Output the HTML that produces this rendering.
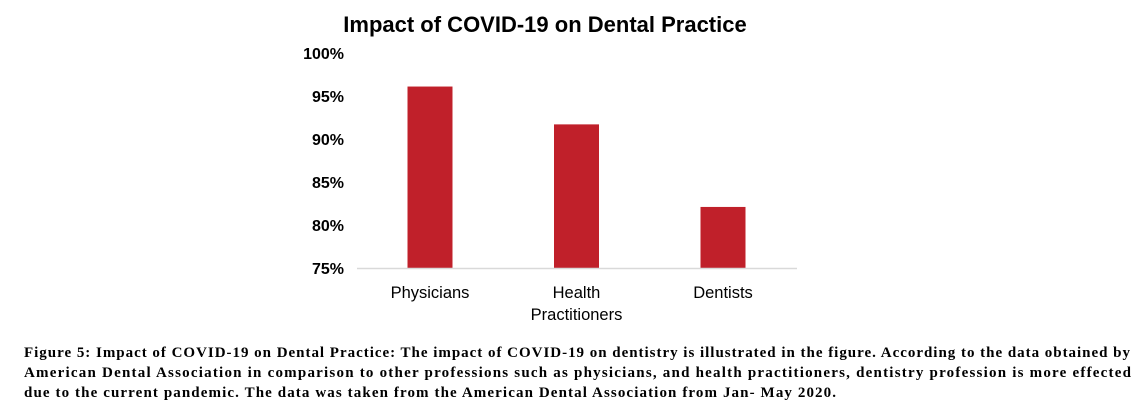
<!DOCTYPE html>
<html><head><meta charset="utf-8">
<style>
body{margin:0;width:1143px;height:416px;background:#fff;overflow:hidden;position:relative}
</style></head><body>
<svg width="1143" height="416" style="position:absolute;left:0;top:0">
<text x="545" y="32" text-anchor="middle" font-family="Liberation Sans,sans-serif" font-weight="bold" font-size="22">Impact of COVID-19 on Dental Practice</text>
<g id="yaxis"></g><g id="bars"></g><g id="xlabels"></g>
<line x1="357" y1="268.5" x2="797" y2="268.5" stroke="#d9d9d9" stroke-width="1.5"/>
<g font-family="Liberation Serif,serif" font-weight="bold" font-size="15">
<text x="24" y="357" textLength="1106" lengthAdjust="spacing">Figure 5: Impact of COVID-19 on Dental Practice: The impact of COVID-19 on dentistry is illustrated in the figure. According to the data obtained by</text>
<text x="24" y="377" textLength="1107" lengthAdjust="spacing">American Dental Association in comparison to other professions such as physicians, and health practitioners, dentistry profession is more effected</text>
<text x="24" y="397" textLength="812" lengthAdjust="spacing">due to the current pandemic. The data was taken from the American Dental Association from Jan- May 2020.</text>
</g>
</svg>
<script>
const categories=[["Physicians"],["Health","Practitioners"],["Dentists"]];
const values=[96.1,91.7,82.1];
const ticks=[75,80,85,90,95,100];
const NS="http://www.w3.org/2000/svg";
const y=v=>268-(v-75)*8.6;
const x=i=>430+i*146.5;
const ya=document.getElementById('yaxis'),ba=document.getElementById('bars'),xl=document.getElementById('xlabels');
ticks.forEach(t=>{const e=document.createElementNS(NS,'text');


e.setAttribute('x',344);e.setAttribute('y',y(t)+6);e.setAttribute('text-anchor','end');e.setAttribute('font-weight','bold');
e.setAttribute('font-family','Liberation Sans,sans-serif');e.setAttribute('font-size','16');e.textContent=t+'%';ya.appendChild(e);});
values.forEach((v,i)=>{const r=document.createElementNS(NS,'rect');


r.setAttribute('x',x(i)-22.5);r.setAttribute('width',45);r.setAttribute('y',y(v));r.setAttribute('height',268-y(v));r.setAttribute('fill','#c0202a');ba.appendChild(r);
categories[i].forEach((s,j)=>{const e=document.createElementNS(NS,'text');


e.setAttribute('x',x(i));e.setAttribute('y',298+j*22);e.setAttribute('text-anchor','middle');
e.setAttribute('font-family','Liberation Sans,sans-serif');e.setAttribute('font-size','16.5');e.textContent=s;xl.appendChild(e);});});
</script>
</body></html>
